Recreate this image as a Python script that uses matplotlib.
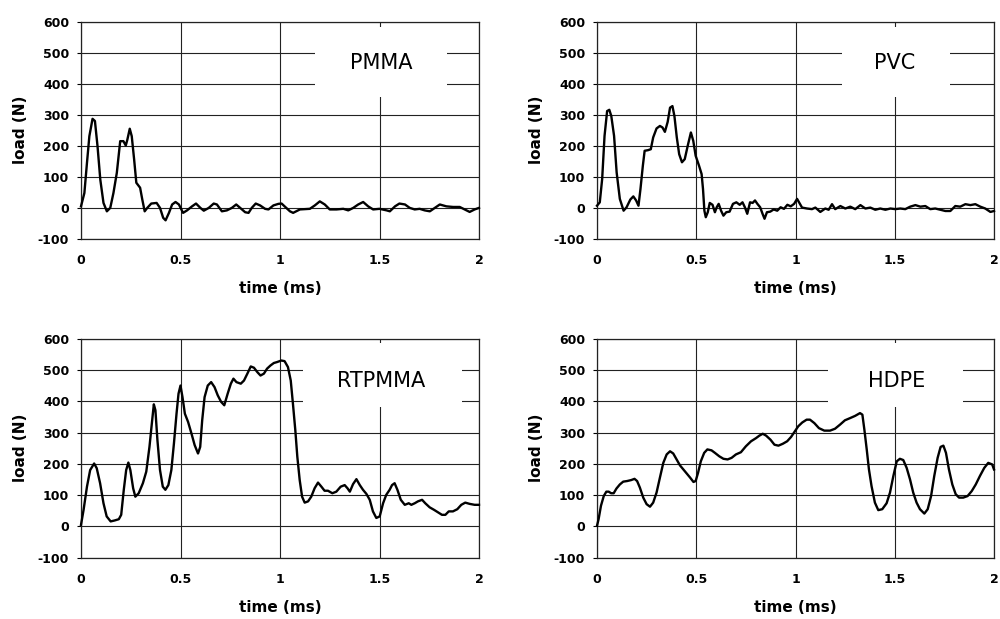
"""Impact load traces for four polymers, 2x2 panels of load against time."""

import matplotlib

matplotlib.use("Agg")
import matplotlib.pyplot as plt
from matplotlib.patches import Rectangle

# --- data -------------------------------------------------------------------

PMMA_T = [0, 0.017, 0.03, 0.042, 0.058, 0.07, 0.083, 0.097, 0.113, 0.13, 0.147, 0.163,
          0.18, 0.197, 0.213, 0.225, 0.233, 0.245, 0.255, 0.267, 0.278, 0.297, 0.308,
          0.32, 0.333, 0.353, 0.38, 0.397, 0.413, 0.425, 0.442, 0.458, 0.475, 0.492,
          0.513, 0.533, 0.558, 0.578, 0.6, 0.617, 0.642, 0.667, 0.683, 0.708, 0.733,
          0.758, 0.78, 0.8, 0.825, 0.842, 0.858, 0.878, 0.9, 0.925, 0.942, 0.967, 0.992,
          1.008, 1.05, 1.066, 1.1, 1.15, 1.175, 1.2, 1.225, 1.25, 1.284, 1.318, 1.343,
          1.368, 1.393, 1.418, 1.443, 1.468, 1.5, 1.536, 1.552, 1.578, 1.6, 1.628, 1.652,
          1.677, 1.702, 1.727, 1.753, 1.778, 1.803, 1.836, 1.87, 1.903, 1.928, 1.953,
          1.978, 2.0]
PMMA_LOAD = [5, 48, 145, 231, 287, 280, 199, 91, 16, -11, 0, 48,
             113, 215, 215, 201, 220, 255, 231, 156, 81, 65, 27,
             -11, 0, 14, 16, 0, -32, -40, -16, 11, 19, 11,
             -16, -8, 5, 14, 0, -9, 0, 14, 11, -11, -8,
             0, 11, 0, -14, -16, 0, 14, 8, -3, -5, 8, 13,
             14, -11, -16, -5, -3, 8, 21, 11, -5, -5, -3, -8,
             0, 11, 19, 5, -5, -3, -8, -11, 5, 14, 11, 0,
             -5, -3, -8, -11, 0, 11, 5, 3, 3, -5, -13,
             -5, 0]

PVC_T = [0, 0.014, 0.026, 0.038, 0.051, 0.062, 0.072, 0.086, 0.099, 0.115, 0.134, 0.149,
         0.168, 0.183, 0.197, 0.209, 0.219, 0.231, 0.24, 0.257, 0.271, 0.283, 0.3, 0.317,
         0.33, 0.342, 0.356, 0.368, 0.38, 0.39, 0.402, 0.414, 0.428, 0.442, 0.457, 0.473,
         0.485, 0.497, 0.514, 0.527, 0.534, 0.541, 0.548, 0.558, 0.568, 0.582, 0.594,
         0.603, 0.613, 0.625, 0.637, 0.651, 0.668, 0.685, 0.702, 0.719, 0.733, 0.745,
         0.757, 0.771, 0.784, 0.796, 0.808, 0.822, 0.834, 0.844, 0.856, 0.873, 0.89,
         0.908, 0.925, 0.942, 0.959, 0.976, 0.993, 1.008, 1.033, 1.058, 1.083, 1.1, 1.125,
         1.15, 1.167, 1.184, 1.2, 1.226, 1.251, 1.276, 1.301, 1.327, 1.352, 1.377, 1.402,
         1.427, 1.453, 1.478, 1.503, 1.528, 1.553, 1.578, 1.604, 1.629, 1.654, 1.679,
         1.704, 1.73, 1.755, 1.78, 1.805, 1.83, 1.856, 1.881, 1.906, 1.931, 1.956, 1.982,
         2.0]
PVC_LOAD = [7, 18, 93, 232, 312, 316, 296, 232, 114, 29, -9, 2,
            27, 37, 24, 7, 61, 136, 184, 186, 189, 227, 256, 264,
            259, 245, 277, 323, 328, 296, 227, 173, 147, 157, 200, 243,
            216, 168, 136, 109, 61, -9, -30, -14, 16, 10, -14,
            2, 13, -9, -25, -14, -12, 13, 18, 10, 18, 2,
            -19, 18, 16, 24, 13, 2, -19, -35, -14, -12, -5,
            -9, 2, -3, 10, 5, 13, 29, 1, -2, -4, 1, -13,
            -2, -6, 12, -4, 6, -2, 4, -4, 9, -2, 1, -6,
            -2, -6, -2, -4, -2, -4, 4, 9, 4, 6, -4,
            -2, -6, -10, -10, 6, 4, 12, 9, 12, 4, -2, -13,
            -10]

RTPMMA_T = [0, 0.013, 0.03, 0.046, 0.066, 0.079, 0.096, 0.113, 0.129, 0.149, 0.169, 0.19,
            0.202, 0.215, 0.227, 0.238, 0.248, 0.262, 0.273, 0.29, 0.311, 0.328, 0.344,
            0.356, 0.366, 0.374, 0.384, 0.397, 0.411, 0.424, 0.439, 0.454, 0.467, 0.48,
            0.49, 0.5, 0.51, 0.522, 0.538, 0.555, 0.571, 0.588, 0.599, 0.609, 0.621, 0.637,
            0.654, 0.671, 0.687, 0.704, 0.72, 0.737, 0.753, 0.766, 0.781, 0.803, 0.819,
            0.836, 0.853, 0.869, 0.886, 0.902, 0.919, 0.935, 0.952, 0.969, 0.985, 1.007,
            1.023, 1.04, 1.054, 1.065, 1.077, 1.087, 1.099, 1.111, 1.124, 1.141, 1.157,
            1.174, 1.191, 1.208, 1.224, 1.241, 1.263, 1.283, 1.305, 1.325, 1.339, 1.351,
            1.367, 1.384, 1.401, 1.417, 1.434, 1.451, 1.467, 1.484, 1.501, 1.518, 1.534,
            1.551, 1.563, 1.576, 1.59, 1.607, 1.627, 1.647, 1.66, 1.677, 1.693, 1.714,
            1.73, 1.752, 1.774, 1.794, 1.814, 1.831, 1.848, 1.869, 1.891, 1.911, 1.931,
            1.953, 1.978, 2.0]
RTPMMA_LOAD = [5, 53, 127, 180, 201, 186, 138, 74, 32, 16, 19, 23,
               37, 117, 180, 204, 180, 122, 95, 106, 138, 175, 254,
               329, 390, 371, 276, 180, 127, 117, 132, 180, 265, 360,
               424, 450, 413, 360, 334, 297, 260, 233, 254, 339, 413, 450,
               461, 445, 419, 398, 387, 424, 456, 472, 461, 456, 466,
               488, 511, 507, 493, 482, 488, 504, 514, 522, 525, 530,
               528, 509, 466, 392, 307, 223, 148, 95, 76, 80, 95,
               122, 140, 127, 114, 114, 106, 111, 127, 132, 122, 111,
               135, 151, 132, 117, 104, 85, 48, 27, 32, 74, 101,
               117, 132, 138, 117, 85, 69, 74, 69, 74, 80, 85,
               74, 61, 53, 45, 37, 37, 48, 48, 55, 69, 76,
               72, 69, 69]

HDPE_T = [0, 0.008, 0.02, 0.034, 0.047, 0.059, 0.071, 0.084, 0.098, 0.115, 0.132, 0.152,
          0.172, 0.189, 0.202, 0.216, 0.233, 0.25, 0.267, 0.283, 0.3, 0.317, 0.334, 0.351,
          0.368, 0.384, 0.401, 0.418, 0.435, 0.452, 0.469, 0.486, 0.497, 0.509, 0.523,
          0.54, 0.556, 0.577, 0.594, 0.616, 0.637, 0.658, 0.678, 0.7, 0.725, 0.75, 0.776,
          0.801, 0.818, 0.835, 0.852, 0.874, 0.894, 0.914, 0.936, 0.958, 0.978, 0.997,
          1.014, 1.034, 1.056, 1.073, 1.095, 1.118, 1.145, 1.174, 1.199, 1.224, 1.249,
          1.275, 1.3, 1.325, 1.337, 1.347, 1.359, 1.37, 1.383, 1.4, 1.417, 1.437, 1.459,
          1.476, 1.493, 1.51, 1.526, 1.543, 1.56, 1.577, 1.593, 1.61, 1.627, 1.649, 1.666,
          1.683, 1.699, 1.716, 1.731, 1.745, 1.758, 1.773, 1.79, 1.807, 1.824, 1.845,
          1.867, 1.888, 1.908, 1.929, 1.951, 1.971, 1.991, 2.0]
HDPE_LOAD = [2, 23, 66, 97, 111, 111, 106, 106, 121, 134, 143, 145,
             148, 152, 145, 124, 92, 71, 63, 76, 108, 156, 203, 230,
             240, 233, 214, 195, 182, 169, 156, 142, 145, 171, 208,
             235, 246, 243, 235, 224, 216, 214, 219, 230, 237, 256, 272,
             282, 290, 296, 290, 277, 261, 258, 264, 272, 286, 304,
             320, 332, 341, 341, 330, 314, 306, 306, 312, 325, 339,
             346, 353, 362, 357, 309, 245, 182, 129, 76, 52, 55, 74,
             108, 161, 208, 216, 212, 187, 150, 108, 76, 55, 41, 55,
             97, 161, 219, 254, 258, 235, 182, 134, 103, 92, 92,
             97, 113, 134, 161, 187, 203, 198, 182]

PANELS = [
    ("PMMA", PMMA_T, PMMA_LOAD),
    ("PVC", PVC_T, PVC_LOAD),
    ("RTPMMA", RTPMMA_T, RTPMMA_LOAD),
    ("HDPE", HDPE_T, HDPE_LOAD),
]

X_TICKS = [0, 0.5, 1, 1.5, 2]
X_TICK_LABELS = ["0", "0.5", "1", "1.5", "2"]
Y_TICKS = [-100, 0, 100, 200, 300, 400, 500, 600]

# axes rectangles in figure fraction, measured from the 1000x619 reference
AXES_RECTS = [
    (0.081, 0.614, 0.398, 0.351),
    (0.597, 0.614, 0.397, 0.351),
    (0.081, 0.099, 0.398, 0.354),
    (0.597, 0.099, 0.397, 0.354),
]
# material name position (data coords) and its white backdrop (axes fraction: x0, y0, w, h)
LABEL_POS = [(1.51, 467), (1.50, 467), (1.51, 464), (1.51, 466)]
LABEL_BOX = [
    (0.588, 0.654, 0.332, 0.32),
    (0.617, 0.654, 0.272, 0.32),
    (0.558, 0.690, 0.399, 0.29),
    (0.582, 0.690, 0.340, 0.29),
]


def draw_panel(ax, name, times, loads, label_xy, box):
    ax.set_xlim(0, 2)
    ax.set_ylim(-100, 600)
    ax.set_xticks(X_TICKS)
    ax.set_xticklabels(X_TICK_LABELS)
    ax.set_yticks(Y_TICKS)
    ax.set_axisbelow(True)
    ax.grid(True, color="#222222", linewidth=0.8)
    for spine in ax.spines.values():
        spine.set_color("#222222")
        spine.set_linewidth(0.9)

    # white backdrop behind the material name, covering the grid
    ax.add_patch(Rectangle(box[:2], box[2], box[3], transform=ax.transAxes,
                           facecolor="white", edgecolor="none", zorder=1.5))
    ax.text(*label_xy, name, ha="center", va="center", fontsize=15, zorder=2)

    ax.plot(times, loads, color="black", linewidth=1.7, zorder=3, clip_on=False)

    ax.tick_params(axis="y", direction="out", length=3, width=0.8, pad=5.5,
                   labelsize=9)
    ax.tick_params(axis="x", direction="out", length=0, pad=11, labelsize=9)
    for lab in ax.get_xticklabels() + ax.get_yticklabels():
        lab.set_fontweight("bold")

    ax.set_xlabel("time (ms)", fontsize=11, fontweight="bold", labelpad=10)
    ax.set_ylabel("load (N)", fontsize=11, fontweight="bold", labelpad=7)


def main():
    plt.rcParams["font.family"] = ["DejaVu Sans"]
    plt.rcParams["axes.unicode_minus"] = False
    fig = plt.figure(figsize=(10, 6.19), dpi=100)

    for rect, (name, times, loads), label_xy, box in zip(AXES_RECTS, PANELS, LABEL_POS,
                                                         LABEL_BOX):
        ax = fig.add_axes(rect)
        draw_panel(ax, name, times, loads, label_xy, box)

    fig.savefig("out.png", dpi=100, facecolor="white")
    plt.close(fig)


if __name__ == "__main__":
    main()
